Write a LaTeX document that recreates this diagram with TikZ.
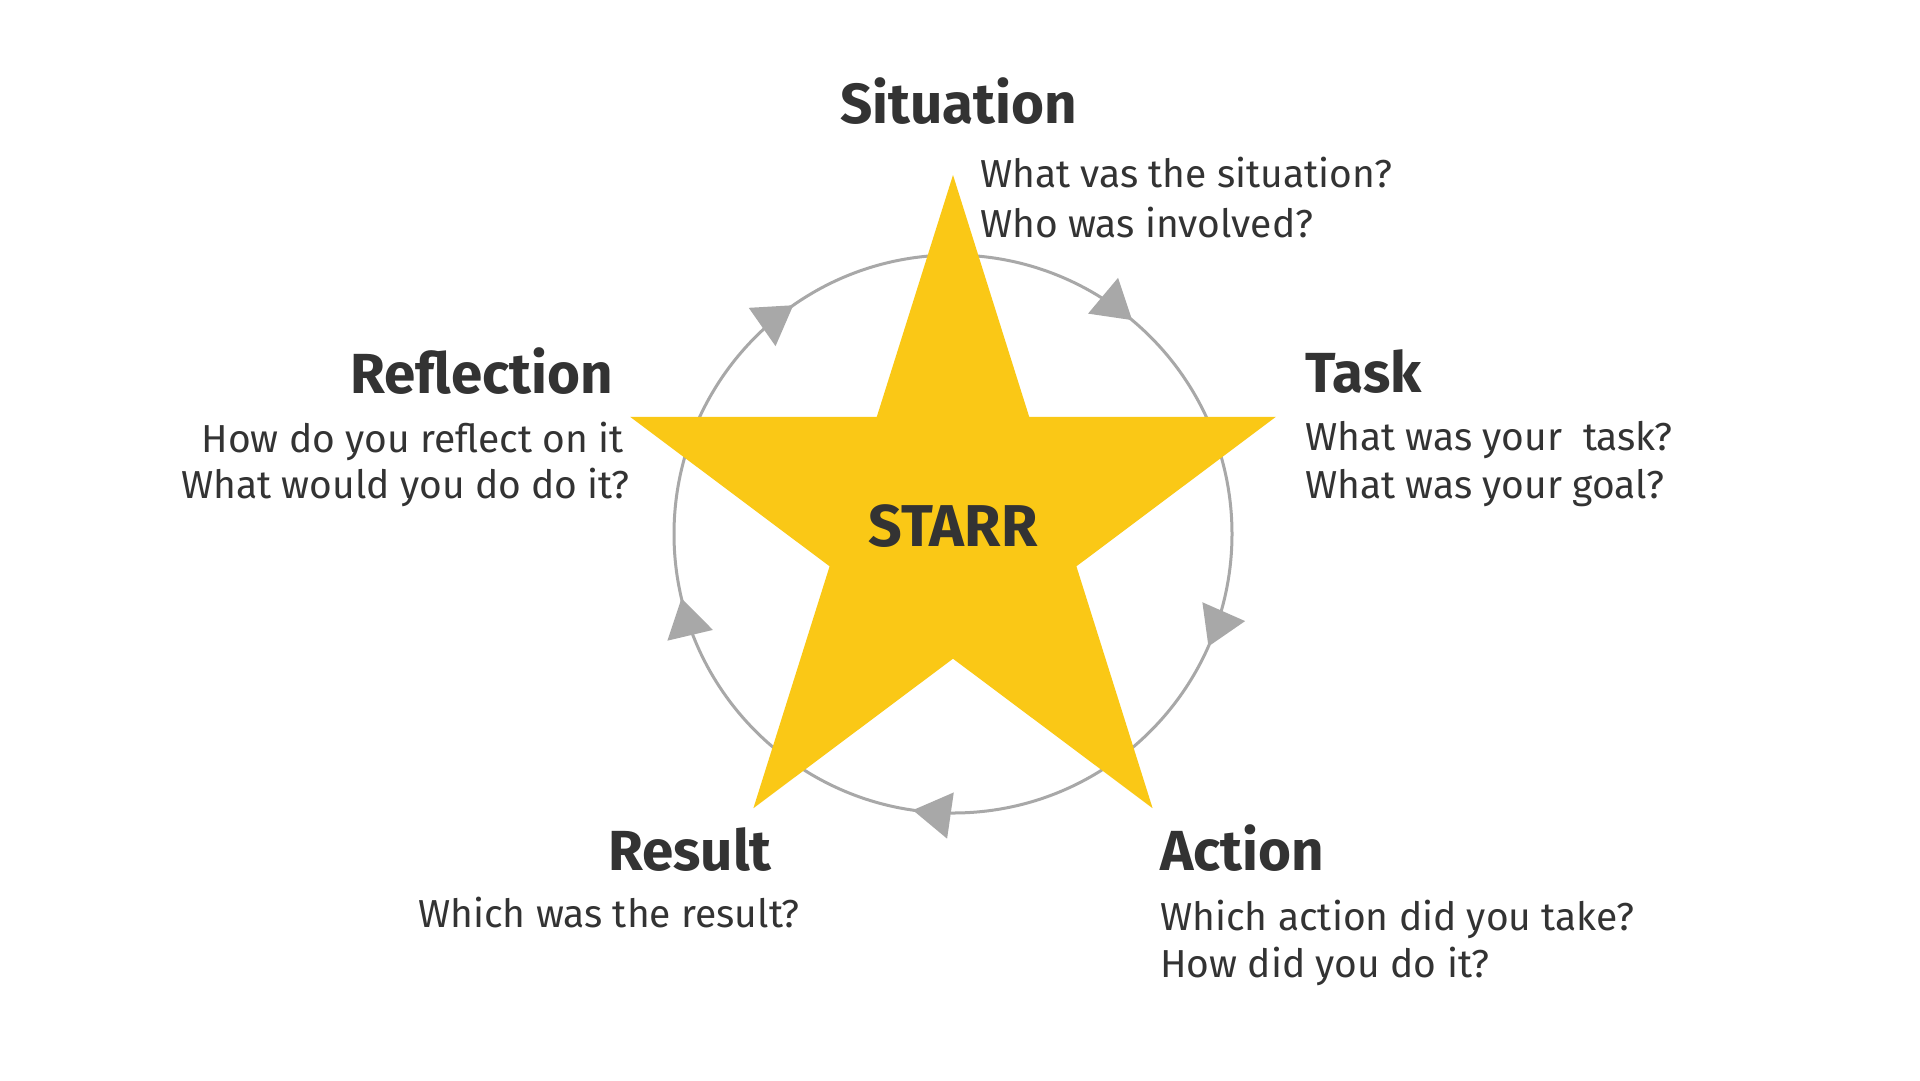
\documentclass[tikz,border=0pt]{standalone}
\usepackage{fontspec}
\setmainfont{Fira Sans}
\usetikzlibrary{arrows.meta,decorations.markings}
\definecolor{staryellow}{RGB}{250,200,22}
\definecolor{txt}{RGB}{51,51,51}
\definecolor{ring}{RGB}{168,168,168}
\begin{document}
\begin{tikzpicture}[x=1pt,y=-1pt,
  head/.style={font=\fontsize{56.5}{60}\selectfont\bfseries, text=txt, inner sep=0},
  body/.style={font=\fontsize{39}{46}\selectfont, text=txt, inner sep=0},
  ringtip/.tip={Triangle[length=38pt,width=46pt]}]
\useasboundingbox[fill=white] (0,0) rectangle (1920,1080);
% cycle ring
\coordinate (c) at (953,534);
\draw[ring, line width=3pt, postaction={decorate},
  decoration={markings,
    mark=at position 0.066 with {\arrow{ringtip}},
    mark=at position 0.273 with {\arrow{ringtip}},
    mark=at position 0.463 with {\arrow{ringtip}},
    mark=at position 0.653 with {\arrow{ringtip}},
    mark=at position 0.861 with {\arrow{ringtip}}}]
  (c) ++(0:279) arc[start angle=0, end angle=360, radius=279];
% star
\coordinate (o1) at (953,175);
\coordinate (i1) at (1029.2,416.8);
\coordinate (o2) at (1275.9,416.8);
\coordinate (i2) at (1076.4,566.3);
\coordinate (o3) at (1152.6,808.2);
\coordinate (i3) at (953,658.7);
\coordinate (o4) at (753.4,808.2);
\coordinate (i4) at (829.6,566.3);
\coordinate (o5) at (630.1,416.8);
\coordinate (i5) at (876.8,416.8);
\fill[staryellow] (o1) -- (i1) -- (o2) -- (i2) -- (o3) -- (i3) -- (o4) -- (i4) -- (o5) -- (i5) -- cycle;
\node[font=\fontsize{59}{62}\selectfont\bfseries, text=txt, inner sep=0, anchor=base] (starr) at (953,546) {STARR};
% Situation
\node[head, anchor=base west] (sit) at (840,123) {Situation};
\node[body, anchor=base west] (sit1) at (980,187) {What vas the situation?};
\node[body, anchor=base west] (sit2) at (980,237) {Who was involved?};
% Task
\node[head, anchor=base west] (task) at (1305,392) {Task};
\node[body, anchor=base west] (task1) at (1305,450) {What was your\ \ task?};
\node[body, anchor=base west] (task2) at (1305,498) {What was your goal?};
% Reflection
\node[head, anchor=base east] (refl) at (613,393) {Reflection};
\node[body, anchor=base east] (refl1) at (624,452) {How do you reflect on it};
\node[body, anchor=base east] (refl2) at (630,498) {What would you do do it?};
% Result
\node[head, anchor=base west] (res) at (608,870) {Result};
\node[body, anchor=base west] (res1) at (418,927) {Which was the result?};
% Action
\node[head, anchor=base west] (act) at (1160,870) {Action};
\node[body, anchor=base west] (act1) at (1160,930) {Which action did you take?};
\node[body, anchor=base west] (act2) at (1160,977) {How did you do it?};
\end{tikzpicture}
\end{document}
